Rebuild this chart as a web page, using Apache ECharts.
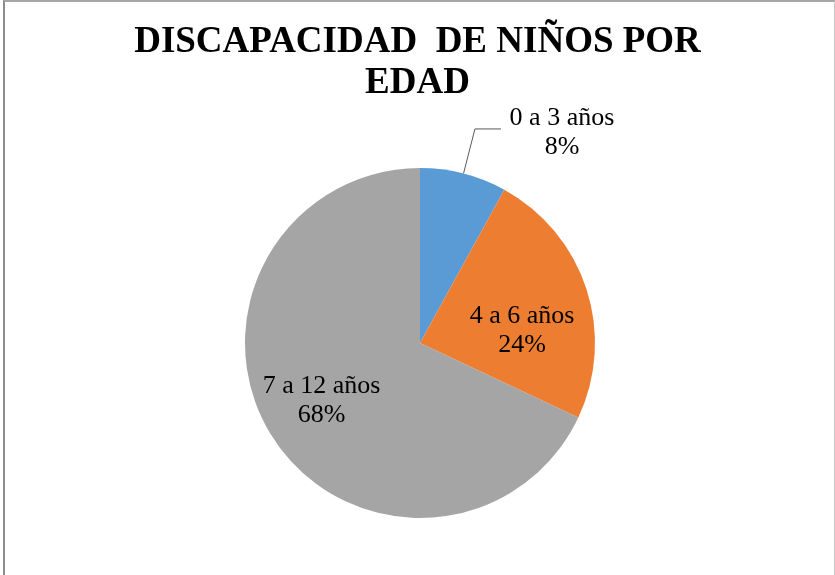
<!DOCTYPE html>
<html style="height: 100%">
<head>
<meta charset="utf-8" />
<title>Discapacidad de niños por edad</title>
<script type="text/javascript" src="https://cdn.jsdelivr.net/npm/echarts@6/dist/echarts.min.js"></script>
</head>
<body style="height: 100%; margin: 0; background: #fff">
<div style="position: relative; width: 835px; height: 575px">
    <div id="container" style="width: 835px; height: 575px"></div>
    <!-- marco del gráfico -->
    <div style="position: absolute; left: 3px; top: 0; width: 829px; height: 575px; border-left: 2px solid #8c8c8c; border-top: 2px solid #a6a6a6; border-right: 1px solid #c8c8c8; pointer-events: none"></div>
</div>
<script type="text/javascript">
    var titulo = 'DISCAPACIDAD  DE NIÑOS POR\nEDAD';
    var edades = ['0 a 3 años', '4 a 6 años', '7 a 12 años'];
    var valores = [8, 24, 68];
    var colores = ['#5b9bd5', '#ed7d31', '#a5a5a5'];

    // ajuste de cada etiqueta para parecerse al original
    var ajustes = [
        { position: 'outside', offset: [0, 0] },
        { position: 'inside', offset: [16, 12] },
        { position: 'inside', offset: [-22, 5] }
    ];

    var datos = [];
    for (var i = 0; i < edades.length; i++) {
        datos.push({
            name: edades[i],
            value: valores[i],
            itemStyle: { color: colores[i] },
            label: ajustes[i]
        });
    }

    var dom = document.getElementById('container');
    var myChart = echarts.init(dom);
    var option = {
        animation: false,
        title: {
            text: titulo,
            left: 'center',
            top: 17,
            textStyle: {
                fontFamily: 'Liberation Serif',
                fontWeight: 'bold',
                fontSize: 37,
                lineHeight: 41,
                color: '#000'
            }
        },
        series: [{
            type: 'pie',
            center: [420, 343],
            radius: 175,
            startAngle: 90,
            clockwise: true,
            data: datos,
            label: {
                formatter: '{t|{b}}\n{t|{d}%}',
                padding: [8, 0, 0, 0],
                rich: {
                    t: {
                        fontFamily: 'Liberation Serif',
                        fontSize: 26,
                        lineHeight: 29,
                        color: '#000',
                        width: 112,
                        align: 'center'
                    }
                }
            },
            labelLine: {
                show: true,
                length: 46,
                length2: 26,
                lineStyle: { color: '#595959', width: 1 }
            },
            emphasis: { disabled: true }
        }]
    };
    myChart.setOption(option);
</script>
</body>
</html>
